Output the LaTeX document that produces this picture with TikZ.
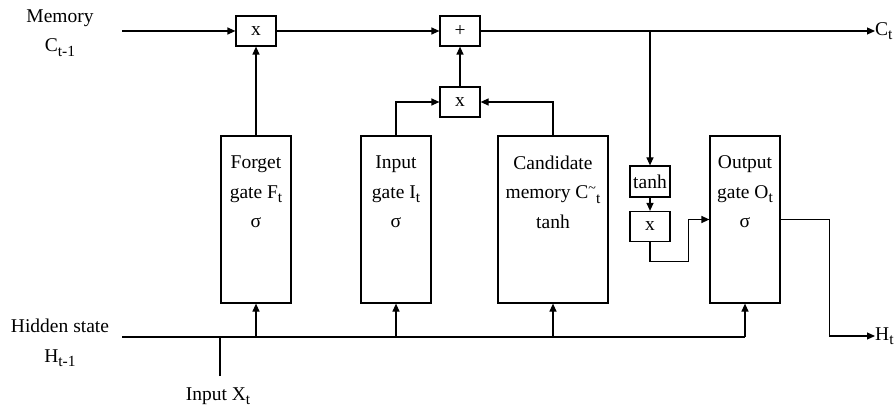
\documentclass[tikz,border=0pt]{standalone}
\usepackage{fontspec}
\setmainfont{Liberation Serif}
\usetikzlibrary{arrows.meta}
\newcommand\lsub[1]{\raisebox{-4.5pt}{\fontsize{15.5}{15.5}\selectfont #1}}
\newcommand\lsup[1]{\raisebox{6pt}{\fontsize{14}{14}\selectfont #1}}
\begin{document}
\begin{tikzpicture}[x=1pt,y=-1pt,
  every node/.style={font=\fontsize{19.5}{29.5}\selectfont},
  op/.style={draw, line width=1.2pt, minimum width=40pt, minimum height=30pt, inner sep=0pt},
  gate/.style={draw, line width=1.2pt, minimum width=70pt, minimum height=167pt, inner sep=0pt},
  txt/.style={align=center, inner sep=0pt},
  arr/.style={-{Triangle[length=8pt,width=7pt]}, line width=1.2pt},
  ln/.style={line width=1.2pt}]
\useasboundingbox (0,0) rectangle (895,409);
% operation boxes
\node[op] (m1) at (256,31) {x};
\node[op] (add) at (460,31) {+};
\node[op] (m2) at (460,102) {x};
\node[op, minimum height=31pt] (th) at (650,181.5) {tanh};
\node[op] (m3) at (650,226.5) {x};
% gates
\node[gate] (fg) at (256,219.5) {};
\node[gate] (ig) at (396,219.5) {};
\node[gate, minimum width=110pt] (cg) at (553,219.5) {};
\node[gate] (og) at (745,219.5) {};
\node[txt] (fgt) at (256,192) {Forget\\gate F\lsub{t}\\σ};
\node[txt] (igt) at (396,192) {Input\\gate I\lsub{t}\\σ};
\node[txt] (cgt) at (553,192) {Candidate\\memory C\lsup{\textasciitilde}\lsub{t}\\tanh};
\node[txt] (ogt) at (745,192) {Output\\gate O\lsub{t}\\σ};
% labels
\node[txt] (mem) at (60,33) {Memory\\C\lsub{t-1}};
\node[txt, anchor=west] (ct) at (875,31) {C\lsub{t}};
\node[txt] (hid) at (60,343) {Hidden state\\H\lsub{t-1}};
\node[txt, anchor=west] (ht) at (875,336) {H\lsub{t}};
\node[txt] (xin) at (218,396) {Input X\lsub{t}};
\coordinate (memin) at (122,31);
\coordinate (hin) at (122,337);
\coordinate (hend) at (745,337);
\coordinate (br) at (650,31);
\coordinate (xbot) at (220,376);
\coordinate (xtop) at (220,337);
% memory line
\draw[arr] (memin) -- (m1);
\draw[arr] (m1) -- (add);
\draw[arr] (add) -- (ct.west);
\draw[arr] (fg.north) -- (m1.south);
\draw[arr] (m2) -- (add);
\draw[arr] (ig.north) |- (m2.west);
\draw[arr] (cg.north) |- (m2.east);
\draw[arr] (br) -- (th.north);
\draw[arr] (th) -- (m3);
\draw[arr] (m3.south) -- ++(0,19) -| ([xshift=-21pt]og.west) -- (og.west);
\draw[arr] (og.east) -- ++(49,0) |- (ht.west);
% hidden line
\draw[ln] (hin) -- (hend);
\draw[ln] (xbot) -- (xtop);
\draw[arr] (fg.south |- hin) -- (fg.south);
\draw[arr] (ig.south |- hin) -- (ig.south);
\draw[arr] (cg.south |- hin) -- (cg.south);
\draw[arr] (hend) -- (og.south);
\end{tikzpicture}
\end{document}
